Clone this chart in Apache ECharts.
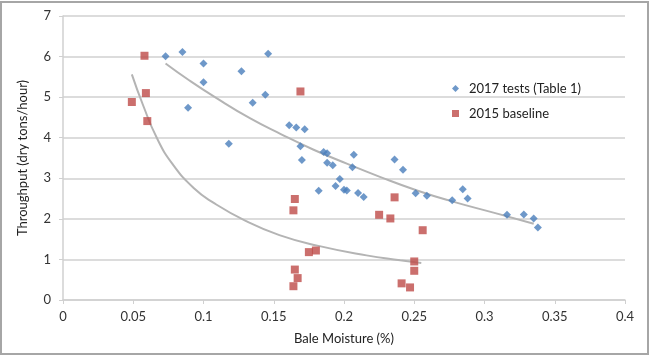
<!DOCTYPE html>
<html>
<head>
<meta charset="utf-8">
<script src="https://cdn.jsdelivr.net/npm/echarts@6/dist/echarts.min.js"></script>
<style>
    html, body { margin: 0; padding: 0; background: #fff; }
    #mychart { width: 652px; height: 362px; }
</style>
</head>
<body>
<div id="mychart"></div>
<script>
// 2017 tests (Table 1) - [moisture, throughput]
var tests2017 = [
    [0.073, 6.01], [0.085, 6.11], [0.100, 5.83], [0.100, 5.37], [0.089, 4.74],
    [0.127, 5.64], [0.146, 6.07], [0.135, 4.86], [0.144, 5.06], [0.118, 3.85],
    [0.161, 4.31], [0.166, 4.25], [0.172, 4.21], [0.169, 3.79], [0.170, 3.45],
    [0.1855, 3.65], [0.188, 3.62], [0.188, 3.38], [0.192, 3.32], [0.207, 3.58],
    [0.206, 3.27], [0.197, 2.98], [0.194, 2.81], [0.182, 2.69], [0.200, 2.72],
    [0.202, 2.70], [0.210, 2.64], [0.214, 2.54], [0.236, 3.46], [0.242, 3.21],
    [0.251, 2.63], [0.259, 2.57], [0.277, 2.46], [0.2845, 2.73], [0.288, 2.50],
    [0.316, 2.10], [0.328, 2.11], [0.335, 2.01], [0.338, 1.79]
];

// 2015 baseline
var baseline2015 = [
    [0.058, 6.02], [0.059, 5.10], [0.049, 4.88], [0.060, 4.41], [0.169, 5.14],
    [0.165, 2.49], [0.164, 2.21], [0.175, 1.18], [0.180, 1.22], [0.165, 0.75],
    [0.167, 0.54], [0.164, 0.34], [0.236, 2.53], [0.225, 2.10], [0.233, 2.01],
    [0.256, 1.72], [0.250, 0.95], [0.250, 0.72], [0.241, 0.41], [0.247, 0.31]
];

// trend lines
var trend2017 = [
    [0.073, 5.83], [0.090, 5.41], [0.109, 4.98], [0.133, 4.48], [0.155, 4.09],
    [0.178, 3.71], [0.202, 3.36], [0.226, 3.03], [0.252, 2.70], [0.275, 2.45],
    [0.311, 2.11], [0.335, 1.88]
];
var trend2015 = [
    [0.049, 5.56], [0.057, 4.80], [0.067, 3.98], [0.078, 3.35], [0.093, 2.76],
    [0.107, 2.40], [0.130, 1.95], [0.154, 1.60], [0.181, 1.34], [0.216, 1.10],
    [0.240, 0.98], [0.255, 0.91]
];

var xTicks = [0, 0.05, 0.1, 0.15, 0.2, 0.25, 0.3, 0.35, 0.4];

var font = 'Lato, "Open Sans", sans-serif';

var option = {
    animation: false,
    backgroundColor: '#fff',
    textStyle: { fontFamily: font },
    graphic: [{
        type: 'rect',
        shape: { x: 1, y: 2, width: 647, height: 352 },
        style: { fill: 'none', stroke: '#a6a6a6', lineWidth: 2 },
        silent: true
    }],
    grid: {
        left: 63,
        right: 27,
        top: 16,
        bottom: 62
    },
    legend: {
        orient: 'vertical',
        left: 447,
        top: 77,
        itemGap: 12,
        itemWidth: 7,
        itemHeight: 7,
        textStyle: { fontSize: 13, color: '#222', fontFamily: font, padding: [0, 0, 0, 5] },
        data: [
            { name: '2017 tests (Table 1)', icon: 'diamond' },
            { name: '2015 baseline', icon: 'rect' }
        ]
    },
    xAxis: {
        type: 'value',
        min: 0,
        max: 0.4,
        interval: 0.05,
        name: 'Bale Moisture (%)',
        nameLocation: 'middle',
        nameGap: 32,
        nameTextStyle: { fontSize: 13, color: '#222' },
        axisLine: { show: true, onZero: false, lineStyle: { color: '#d0d0d0', width: 1.5 } },
        axisTick: { show: true, length: 4, lineStyle: { color: '#d0d0d0' } },
        axisLabel: {
            fontSize: 13, color: '#333', margin: 10,
            formatter: function (v) {
                for (var i = 0; i < xTicks.length; i++) {
                    if (Math.abs(xTicks[i] - v) < 1e-9) return String(xTicks[i]);
                }
                return '';
            }
        },
        splitLine: { show: false }
    },
    yAxis: {
        type: 'value',
        min: 0,
        max: 7,
        interval: 1,
        name: 'Throughput (dry tons/hour)',
        nameLocation: 'middle',
        nameGap: 34,
        nameTextStyle: { fontSize: 13, color: '#222' },
        axisLine: { show: true, lineStyle: { color: '#d0d0d0', width: 1.5 } },
        axisTick: { show: true, length: 4, lineStyle: { color: '#d0d0d0' } },
        axisLabel: { fontSize: 13, color: '#333', margin: 12 },
        splitLine: { show: true, lineStyle: { color: '#dcdcdc', width: 2 } }
    },
    series: [
        {
            name: '2017 tests (Table 1)',
            type: 'scatter',
            symbol: 'diamond',
            symbolSize: 8,
            itemStyle: { color: '#4a7ebb' },
            data: tests2017,
            z: 3
        },
        {
            name: '2015 baseline',
            type: 'scatter',
            symbol: 'rect',
            symbolSize: 8,
            itemStyle: { color: '#be4b48' },
            data: baseline2015,
            z: 3
        },
        {
            name: 'trend2017',
            type: 'line',
            smooth: true,
            showSymbol: false,
            symbol: 'none',
            lineStyle: { color: '#b4b4b4', width: 2 },
            data: trend2017,
            z: 2
        },
        {
            name: 'trend2015',
            type: 'line',
            smooth: true,
            showSymbol: false,
            symbol: 'none',
            lineStyle: { color: '#b4b4b4', width: 2 },
            data: trend2015,
            z: 2
        }
    ]
};

var mychart = echarts.init(document.getElementById('mychart'));
mychart.setOption(option);
</script>
</body>
</html>
